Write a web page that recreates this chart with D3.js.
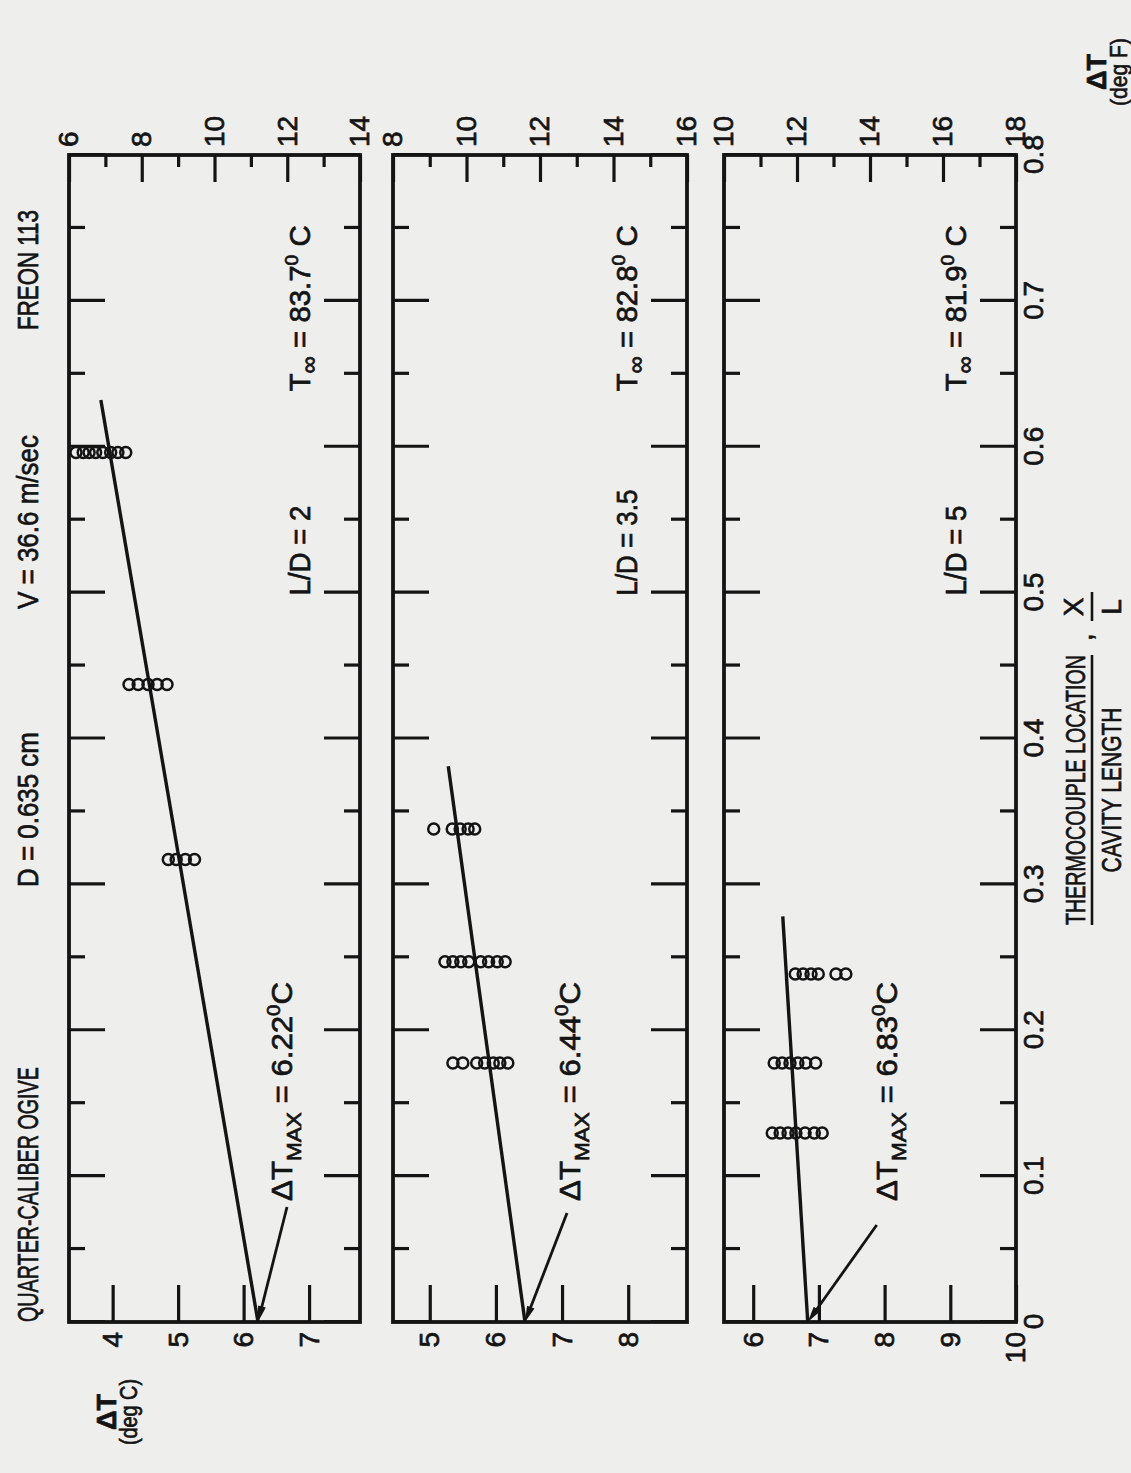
<!DOCTYPE html>
<html>
<head>
<meta charset="utf-8">
<script src="https://cdn.jsdelivr.net/npm/d3@7"></script>
<style>
body { margin: 0; background: #eeeeec; }
svg { display: block; }
</style>
</head>
<body>
<svg id="chart"></svg>
<script>
const W = 1131, H = 1473
const INK = "#141414"
const FONT = '"Liberation Sans", Arial, sans-serif'

// ---- data ----
const xlMajor = [0, 0.1, 0.2, 0.3, 0.4, 0.5, 0.6, 0.7, 0.8]
const xlMinor = [0.05, 0.15, 0.25, 0.35, 0.45, 0.55, 0.65, 0.75]
const xlLabels = ["0", "0.1", "0.2", "0.3", "0.4", "0.5", "0.6", "0.7", "0.8"]

const degFRange = [[6, 14], [8, 16], [10, 18]]
const degFMajor = [[6, 8, 10, 12, 14], [8, 10, 12, 14, 16], [10, 12, 14, 16, 18]]
const degFMinor = [[7, 9, 11, 13], [9, 11, 13, 15], [11, 13, 15, 17]]
const degCTicks = [[4, 5, 6, 7], [5, 6, 7, 8], [6, 7, 8, 9, 10]]

const ldLabels = ["L/D = 2", "L/D = 3.5", "L/D = 5"]
const tInfinity = ["83.7", "82.8", "81.9"]
const dtMax = [6.22, 6.44, 6.83]
const fitEnd = [[0.632, 3.82], [0.381, 5.28], [0.278, 6.45]] // x/L, deg C where the drawn line stops

const readingsLD2 = [
    { xl: 0.596, dt: [3.44, 3.55, 3.64, 3.74, 3.85, 3.97, 4.08, 4.20] },
    { xl: 0.437, dt: [4.25, 4.39, 4.54, 4.68, 4.83] },
    { xl: 0.317, dt: [4.85, 4.97, 5.11, 5.25] }
]
const readingsLD35 = [
    { xl: 0.338, dt: [5.06, 5.34, 5.46, 5.58, 5.68] },
    { xl: 0.247, dt: [5.23, 5.35, 5.47, 5.59, 5.77, 5.89, 6.02, 6.14] },
    { xl: 0.1775, dt: [5.35, 5.50, 5.71, 5.83, 5.96, 6.06, 6.18] }
]
const readingsLD5 = [
    { xl: 0.2385, dt: [6.64, 6.76, 6.88, 6.99, 7.26, 7.41] },
    { xl: 0.1775, dt: [6.32, 6.44, 6.56, 6.68, 6.80, 6.95] },
    { xl: 0.1295, dt: [6.29, 6.41, 6.53, 6.65, 6.79, 6.93, 7.05] }
]
const readings = [readingsLD2, readingsLD35, readingsLD5]

const header = ["QUARTER-CALIBER OGIVE", "D = 0.635 cm", "V = 36.6 m/sec", "FREON 113"]

// ---- layout (the sheet is landscape, turned a quarter turn on the page) ----
const panelBand = [[69, 360], [393, 687], [724, 1016]]
const plotLeft = 151, plotRight = 1318
const headerAt = [[151, 255], [586, 155], [864, 174], [1143, 120]] // start, length
const ldLength = [90, 106, 90]
const dtMaxBase = [223, 187, 173]
const arrowTail = [[115, 29], [109, 42], [97, 69]]

const svg = d3.select("#chart").attr("width", W).attr("height", H)
svg.append("rect").attr("width", W).attr("height", H).attr("fill", "#eeeeec")

const land = svg.append("g")
    .attr("transform", `translate(0,${H}) rotate(-90)`)
    .attr("font-family", FONT)
    .attr("fill", INK)

const x = d3.scaleLinear().domain([0, 0.8]).range([plotLeft, plotRight])

const label = (u, v, size, anchor = "start") => land.append("text")
    .attr("transform", `translate(${u},${v})`)
    .attr("font-size", size)
    .attr("text-anchor", anchor)
    .attr("stroke", INK)
    .attr("stroke-width", 0.7)

const squeeze = (t, len) => {
    let w = t.node().getComputedTextLength()
    t.attr("transform", `${t.attr("transform")} scale(${len / w},1)`)
    return t
}

const styleAxis = g => {
    g.attr("font-family", FONT).attr("font-size", 28).attr("color", INK)
    g.selectAll(".domain").remove()
    g.selectAll(".tick line").attr("stroke-width", 3.2)
    g.selectAll(".tick text").attr("stroke", INK).attr("stroke-width", 0.7)
}

panelBand.forEach((band, i) => {
    const yF = d3.scaleLinear().domain(degFRange[i]).range(band)
    const yC = d3.scaleLinear().domain(degFRange[i].map(f => f / 1.8)).range(band)
    const g = land.append("g")

    // x/L ticks along both long edges of every panel
    const edge = (axis, v, size, vals) => g.append("g")
        .attr("transform", `translate(0,${v})`)
        .call(axis(x).tickValues(vals).tickSize(size).tickSizeOuter(0).tickFormat(""))
        .call(styleAxis)
    edge(d3.axisBottom, band[0], 36, xlMajor)
    edge(d3.axisBottom, band[0], 16, xlMinor)
    edge(d3.axisTop, band[1], 36, xlMajor)
    edge(d3.axisTop, band[1], 16, xlMinor)

    if (i == 2) {
        g.append("g")
            .attr("transform", `translate(0,${band[1]})`)
            .call(d3.axisBottom(x).tickValues(xlMajor).tickSize(0).tickPadding(7).tickFormat((d, k) => xlLabels[k]))
            .call(styleAxis)
    }

    // deg C along the start edge, deg F along the far edge
    g.append("g")
        .attr("transform", `translate(${plotLeft},0)`)
        .call(d3.axisLeft(yC).tickValues(degCTicks[i]).tickSize(-37).tickPadding(10).tickSizeOuter(0).tickFormat(d3.format("d")))
        .call(styleAxis)
    g.append("g")
        .attr("transform", `translate(${plotRight},0)`)
        .call(d3.axisRight(yF).tickValues(degFMajor[i]).tickSize(-27).tickPadding(8).tickSizeOuter(0).tickFormat(d3.format("d")))
        .call(styleAxis)
    g.append("g")
        .attr("transform", `translate(${plotRight},0)`)
        .call(d3.axisRight(yF).tickValues(degFMinor[i]).tickSize(-12).tickSizeOuter(0).tickFormat(""))
        .call(styleAxis)

    g.append("rect")
        .attr("x", plotLeft).attr("y", band[0])
        .attr("width", plotRight - plotLeft).attr("height", band[1] - band[0])
        .attr("fill", "none").attr("stroke", INK).attr("stroke-width", 3.8)

    g.append("line")
        .attr("x1", x(0)).attr("y1", yC(dtMax[i]))
        .attr("x2", x(fitEnd[i][0])).attr("y2", yC(fitEnd[i][1]))
        .attr("stroke", INK).attr("stroke-width", 3.4)

    readings[i].forEach(r => {
        g.selectAll(null)
            .data(r.dt)
            .join("circle")
            .attr("cx", x(r.xl))
            .attr("cy", d => yC(d))
            .attr("r", 5.5)
            .attr("fill", "none")
            .attr("stroke", INK)
            .attr("stroke-width", 2.5)
    })

    // arrow to the extrapolated maximum
    const tipU = x(0), tipV = yC(dtMax[i])
    const tailU = tipU + arrowTail[i][0], tailV = tipV + arrowTail[i][1]
    const len = Math.hypot(tailU - tipU, tailV - tipV)
    const du = (tailU - tipU) / len, dv = (tailV - tipV) / len
    g.append("line")
        .attr("x1", tailU).attr("y1", tailV)
        .attr("x2", tipU + du * 8).attr("y2", tipV + dv * 8)
        .attr("stroke", INK).attr("stroke-width", 2.8)
    g.append("path")
        .attr("d", d3.line()([
            [tipU, tipV],
            [tipU + du * 16 - dv * 4, tipV + dv * 16 + du * 4],
            [tipU + du * 16 + dv * 4, tipV + dv * 16 - du * 4]
        ]) + "Z")
        .attr("fill", INK)

    const m = label(x(0.083), band[0] + dtMaxBase[i], 29)
    m.append("tspan").text("ΔT")
    m.append("tspan").attr("font-size", 21).attr("dy", 9).text("MAX")
    m.append("tspan").attr("dy", -9).text(` = ${dtMax[i]}`)
    m.append("tspan").attr("font-size", 19).attr("dy", -12).text("0")
    m.append("tspan").attr("dy", 12).text("C")
    squeeze(m, 219)

    squeeze(label(x(0.498), band[1] - 50, 29).text(ldLabels[i]), ldLength[i])

    const t = label(x(0.638), band[1] - 50, 29)
    t.append("tspan").text("T")
    t.append("tspan").attr("font-size", 24).attr("dy", 7).text("∞")
    t.append("tspan").attr("dy", -7).text(` = ${tInfinity[i]}`)
    t.append("tspan").attr("font-size", 19).attr("dy", -12).text("0")
    t.append("tspan").attr("dy", 12).text(" C")
    squeeze(t, 166)
})

header.forEach((s, i) => squeeze(label(headerAt[i][0], 38, 29).text(s), headerAt[i][1]))

// axis titles
label(61, 116, 27, "middle").attr("font-weight", "bold").text("ΔT")
squeeze(label(61, 137, 24, "middle").text("(deg C)"), 66)
label(1401, 1106, 27, "middle").attr("font-weight", "bold").text("ΔT")
squeeze(label(1401, 1127, 24, "middle").text("(deg F)"), 68)

squeeze(label(683, 1085, 28, "middle").text("THERMOCOUPLE LOCATION"), 270)
squeeze(label(683, 1121, 28, "middle").text("CAVITY LENGTH"), 165)
land.append("line").attr("x1", 548).attr("x2", 818).attr("y1", 1092).attr("y2", 1092)
    .attr("stroke", INK).attr("stroke-width", 2.6)
label(836, 1092, 28, "middle").text(",")
label(866, 1083, 28, "middle").text("X")
land.append("line").attr("x1", 852).attr("x2", 881).attr("y1", 1092).attr("y2", 1092)
    .attr("stroke", INK).attr("stroke-width", 2.6)
label(866, 1121, 28, "middle").text("L")
</script>
</body>
</html>
